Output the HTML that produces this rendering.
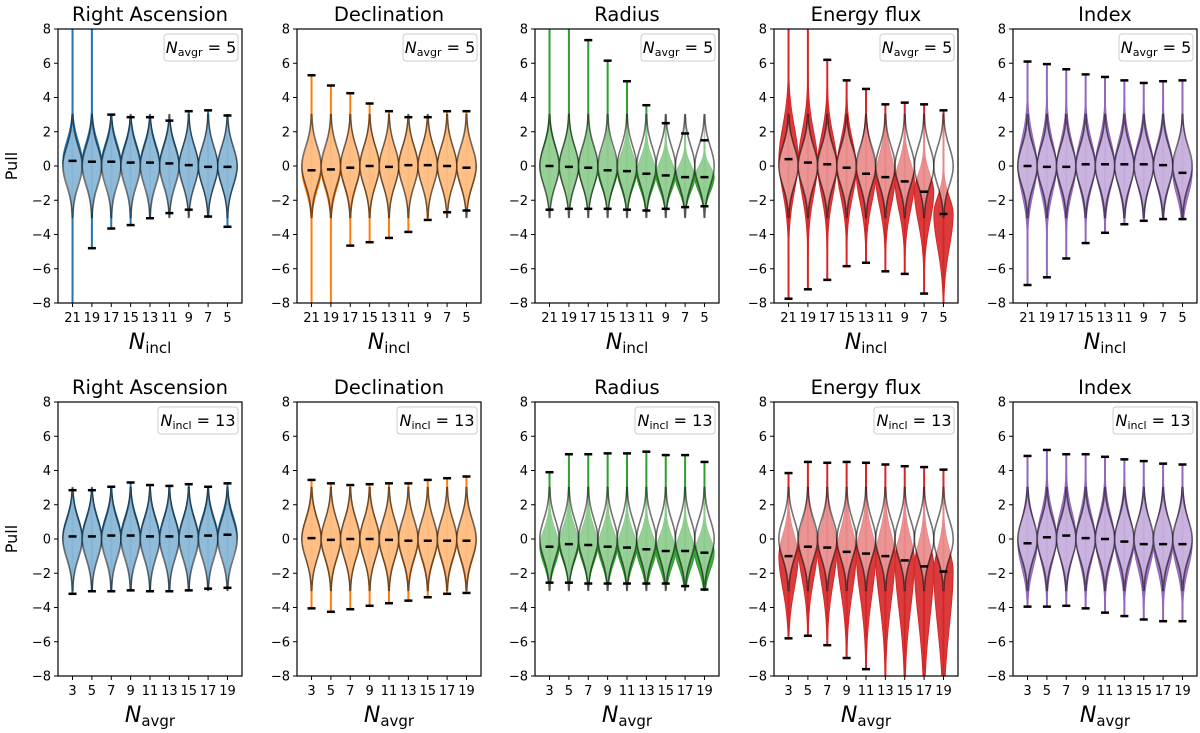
<!DOCTYPE html>
<html><head><meta charset="utf-8"><style>
body{margin:0;background:#fff;}
svg{display:block;font-family:"DejaVu Sans","Liberation Sans",sans-serif;}
</style></head><body>
<svg id="fig" width="1200" height="733" viewBox="0 0 1200 733"></svg>
<script>
// ---- data ----
const topLabels = ["21","19","17","15","13","11","9","7","5"];
const botLabels = ["3","5","7","9","11","13","15","17","19"];
const titles = ["Right Ascension","Declination","Radius","Energy flux","Index"];
const colors = ["#1f77b4","#ff7f0e","#2ca02c","#d62728","#9467bd"];
const yTicks = [-8,-6,-4,-2,0,2,4,6,8];

// top row (N_avgr = 5)
const t0_med=[0.3,0.25,0.25,0.2,0.2,0.15,0.05,-0.05,-0.05];
const t0_max=[9,9,3,2.85,2.85,2.65,3.2,3.25,2.95];
const t0_min=[-9,-4.8,-3.65,-3.45,-3.05,-2.75,-2.55,-2.95,-3.55];
const t0_sU=[1.15,1.15,1.1,1.1,1.1,1.1,1.1,1.1,1.1];
const t0_sD=[1.15,1.15,1.1,1.1,1.1,1.1,1.1,1.1,1.1];

const t1_med=[-0.25,-0.2,-0.1,0,-0.05,0.05,0.05,0,-0.1];
const t1_max=[5.3,4.7,4.25,3.65,3.2,2.85,2.85,3.2,3.2];
const t1_min=[-9,-9,-4.65,-4.45,-4.2,-3.85,-3.15,-2.7,-2.6];
const t1_sU=[1.15,1.15,1.15,1.15,1.1,1.1,1.1,1.1,1.1];
const t1_sD=[1.15,1.15,1.15,1.15,1.1,1.1,1.1,1.1,1.1];

const t2_med=[0,-0.05,-0.1,-0.25,-0.3,-0.45,-0.55,-0.65,-0.65];
const t2_max=[9,9,7.35,6.15,4.95,3.55,2.5,1.9,1.5];
const t2_min=[-2.55,-2.5,-2.5,-2.5,-2.55,-2.6,-2.5,-2.4,-2.35];
const t2_sU=[1.2,1.15,1.1,1.05,1.0,0.9,0.8,0.7,0.6];
const t2_sD=[1.05,1.05,1.05,1.0,1.0,0.95,0.9,0.85,0.85];

const t3_med=[0.4,0.2,0.1,-0.1,-0.45,-0.65,-0.9,-1.5,-2.8];
const t3_max=[9,9,6.2,5.0,4.5,3.6,3.7,3.6,3.25];
const t3_min=[-7.75,-7.2,-6.65,-5.85,-5.65,-6.15,-6.3,-7.45,-9];
const t3_sU=[1.9,1.8,1.7,1.6,1.4,1.3,1.1,1.0,1.0];
const t3_sD=[1.9,1.9,1.8,1.7,1.7,1.7,1.7,1.8,2.0];

const t4_med=[0,-0.05,-0.05,0.1,0.1,0.1,0.1,0.05,-0.4];
const t4_max=[6.1,5.95,5.65,5.35,5.2,5.0,4.85,4.95,5.0];
const t4_min=[-6.95,-6.5,-5.4,-4.5,-3.9,-3.4,-3.2,-3.1,-3.1];
const t4_sU=[1.55,1.5,1.45,1.4,1.4,1.35,1.3,1.3,1.3];
const t4_sD=[1.55,1.5,1.45,1.4,1.4,1.35,1.3,1.3,1.3];

// bottom row (N_incl = 13)
const b0_med=[0.15,0.15,0.2,0.2,0.15,0.15,0.15,0.2,0.25];
const b0_max=[2.85,2.85,3.05,3.3,3.15,3.1,3.2,3.05,3.25];
const b0_min=[-3.2,-3.05,-3.05,-3.0,-3.05,-3.05,-3.0,-2.9,-2.85];
const b0_sU=[1.1,1.1,1.1,1.1,1.1,1.1,1.1,1.1,1.1];
const b0_sD=[1.1,1.1,1.1,1.1,1.1,1.1,1.1,1.1,1.1];

const b1_med=[0.05,-0.05,0,0,-0.05,-0.1,-0.1,-0.1,-0.1];
const b1_max=[3.45,3.25,3.15,3.2,3.25,3.25,3.45,3.55,3.65];
const b1_min=[-4.05,-4.25,-4.1,-3.9,-3.75,-3.6,-3.4,-3.2,-3.15];
const b1_sU=[1.15,1.15,1.15,1.15,1.15,1.15,1.15,1.15,1.15];
const b1_sD=[1.15,1.15,1.15,1.15,1.15,1.15,1.15,1.15,1.15];

const b2_med=[-0.45,-0.3,-0.35,-0.45,-0.5,-0.6,-0.7,-0.7,-0.8];
const b2_max=[3.9,4.95,4.95,5.0,5.0,5.1,4.9,4.9,4.5];
const b2_min=[-2.55,-2.55,-2.6,-2.6,-2.6,-2.6,-2.6,-2.75,-2.95];
const b2_sU=[0.95,1.0,1.0,0.95,0.95,0.9,0.9,0.9,0.85];
const b2_sD=[1.0,1.0,1.0,1.0,1.0,1.0,1.0,1.0,1.0];

const b3_med=[-1.0,-0.45,-0.5,-0.75,-0.85,-1.0,-1.25,-1.6,-1.9];
const b3_max=[3.85,4.5,4.45,4.5,4.45,4.35,4.25,4.2,4.05];
const b3_min=[-5.8,-5.65,-6.2,-6.95,-7.6,-9,-9,-9,-9];
const b3_sU=[1.2,1.3,1.3,1.3,1.3,1.3,1.3,1.3,1.3];
const b3_sD=[1.9,1.9,2.1,2.3,2.5,2.7,2.9,3.1,3.3];

const b4_med=[-0.25,0.1,0.2,0.05,0,-0.15,-0.3,-0.3,-0.3];
const b4_max=[4.85,5.2,4.95,4.95,4.8,4.65,4.55,4.4,4.35];
const b4_min=[-3.95,-3.95,-3.9,-4.05,-4.3,-4.5,-4.7,-4.8,-4.8];
const b4_sU=[1.4,1.4,1.4,1.4,1.4,1.4,1.4,1.4,1.4];
const b4_sD=[1.4,1.4,1.4,1.4,1.4,1.4,1.4,1.4,1.4];

const topData=[[t0_med,t0_max,t0_min,t0_sU,t0_sD],[t1_med,t1_max,t1_min,t1_sU,t1_sD],[t2_med,t2_max,t2_min,t2_sU,t2_sD],[t3_med,t3_max,t3_min,t3_sU,t3_sD],[t4_med,t4_max,t4_min,t4_sU,t4_sD]];
const botData=[[b0_med,b0_max,b0_min,b0_sU,b0_sD],[b1_med,b1_max,b1_min,b1_sU,b1_sD],[b2_med,b2_max,b2_min,b2_sU,b2_sD],[b3_med,b3_max,b3_min,b3_sU,b3_sD],[b4_med,b4_max,b4_min,b4_sU,b4_sD]];

// ---- drawing ----
const NS="http://www.w3.org/2000/svg";
const svg=document.getElementById('fig');
function mk(tag,attrs,parent,text){const e=document.createElementNS(NS,tag);for(const k in attrs)e.setAttribute(k,attrs[k]);if(text!==undefined)e.textContent=text;(parent||svg).appendChild(e);return e;}

const colLeft=[58,297,535,774,1013];
const AW=184;
const rows=[{top:29,bot:303,labels:topLabels,data:topData,legend:"avgr",legVal:"5",xl:"incl",name:"top"},
            {top:402,bot:676,labels:botLabels,data:botData,legend:"incl",legVal:"13",xl:"avgr",name:"bottom"}];

rows.forEach((row,ri)=>{
  for(let p=0;p<5;p++){
    const L=colLeft[p],T=row.top,B=row.bot,R=L+AW;
    const xS=v=>L+(v-0.25)/9.5*AW;
    const yS=v=>B-(v+8)/16*(B-T);
    const g=mk('g',{},svg);
    
    
    const clipId='clip'+ri+p;
    const cp=mk('clipPath',{id:clipId},g);
    mk('rect',{x:L,y:T,width:AW,height:B-T},cp);
    const plot=mk('g',{'clip-path':'url(#'+clipId+')'},g);
    const [med,mx,mn,sU,sD]=row.data[p];
    const col=colors[p];
    const W=0.5*AW/9.5;
    for(let i=0;i<9;i++){
      const cx=xS(i+1);
      const vg=mk('g',{},plot);
      
      
      const lo=mn[i],hi=mx[i],c=med[i];
      // reference gray line (underneath)
      mk('line',{x1:cx,x2:cx,y1:yS(-3),y2:yS(3),stroke:'#888','stroke-width':1.5},vg);
      // range line + caps
      mk('line',{x1:cx,x2:cx,y1:yS(lo),y2:yS(hi),stroke:col,'stroke-width':2},vg);
      // colored violin
      const N=160;let pts=[],ws=[],maxw=0;
      for(let k=0;k<=N;k++){const y=lo+(hi-lo)*k/N;const s=y>c?sU[i]:sD[i];
        const d=Math.exp(-0.5*((y-c)/s)**2)+0.04*Math.exp(-Math.abs(y-c)/1.5);
        ws.push(d);pts.push(y);if(d>maxw)maxw=d;}
      let dp='';
      for(let k=0;k<=N;k++)dp+=(k?'L':'M')+(cx-W*ws[k]/maxw).toFixed(2)+','+yS(pts[k]).toFixed(2);
      for(let k=N;k>=0;k--)dp+='L'+(cx+W*ws[k]/maxw).toFixed(2)+','+yS(pts[k]).toFixed(2);
      const cv=mk('path',{d:dp+'Z',fill:col,'fill-opacity':0.9,stroke:col,'stroke-width':1},vg);
      
      
      // reference N(0,1) violin
      let rp='';const M=80;const rs=1.12;
      for(let k=0;k<=M;k++){const y=-3+6*k/M;rp+=(k?'L':'M')+(cx-W*Math.exp(-y*y/(2*rs*rs))).toFixed(2)+','+yS(y).toFixed(2);}
      for(let k=M;k>=0;k--){const y=-3+6*k/M;rp+='L'+(cx+W*Math.exp(-y*y/(2*rs*rs))).toFixed(2)+','+yS(y).toFixed(2);}
      const rv=mk('path',{d:rp+'Z',fill:'#fff','fill-opacity':0.45,stroke:'#000','stroke-opacity':0.55,'stroke-width':1.6},vg);
      
      
      mk('line',{x1:cx-4,x2:cx+4,y1:yS(hi),y2:yS(hi),stroke:'#000','stroke-width':2.5},vg);
      mk('line',{x1:cx-4,x2:cx+4,y1:yS(lo),y2:yS(lo),stroke:'#000','stroke-width':2.5},vg);
      const md=mk('line',{x1:cx-4,x2:cx+4,y1:yS(c),y2:yS(c),stroke:'#000','stroke-width':2.5},vg);
      
      
      // x tick
      mk('line',{x1:cx,x2:cx,y1:B,y2:B+4,stroke:'#000','stroke-width':1},g);
      const tl=mk('text',{x:cx,y:B+19,'font-size':13,'text-anchor':'middle',fill:'#000'},g,row.labels[i]);
      
      
    }
    // y ticks
    yTicks.forEach(v=>{
      const y=yS(v);
      mk('line',{x1:L-4,x2:L,y1:y,y2:y,stroke:'#000','stroke-width':1},g);
      const t=mk('text',{x:L-7,y:y+4.5,'font-size':13,'text-anchor':'end',fill:'#000'},g,(v<0?'\u2212'+(-v):''+v));
      
      
    });
    const fr=mk('rect',{x:L,y:T,width:AW,height:B-T,fill:'none',stroke:'#000','stroke-width':1.2},g);
    
    
    // title
    const ti=mk('text',{x:L+AW/2,y:T-8,'font-size':19.5,'text-anchor':'middle',fill:'#000'},g,titles[p]);
    
    
    // legend
    const lg=mk('g',{},g);
    
    
    const lw=row.legend==='avgr'?74:80;
    mk('rect',{x:R-4-lw,y:T+5,width:lw,height:27,rx:3,fill:'#fff','fill-opacity':0.85,stroke:'#ccc','stroke-width':1},lg);
    const lt=mk('text',{x:R-4-lw/2,y:T+24,'font-size':16,'text-anchor':'middle',fill:'#000'},lg);
    mk('tspan',{'font-style':'italic'},lt,'N');
    mk('tspan',{'font-size':11,dy:3},lt,row.legend);
    mk('tspan',{dy:-3},lt,' = '+row.legVal);
    // x label
    const xl=mk('text',{x:L+AW/2,y:B+46,'font-size':22,'text-anchor':'middle',fill:'#000'},g);
    
    
    mk('tspan',{'font-style':'italic'},xl,'N');
    mk('tspan',{'font-size':15,dy:4},xl,row.xl);
    if(p===0){
      const yl=mk('text',{x:0,y:0,'font-size':16,'text-anchor':'middle',fill:'#000',transform:'translate(17,'+((T+B)/2)+') rotate(-90)'},g,'Pull');
      
      
    }
  }
});
</script>
</body></html>
